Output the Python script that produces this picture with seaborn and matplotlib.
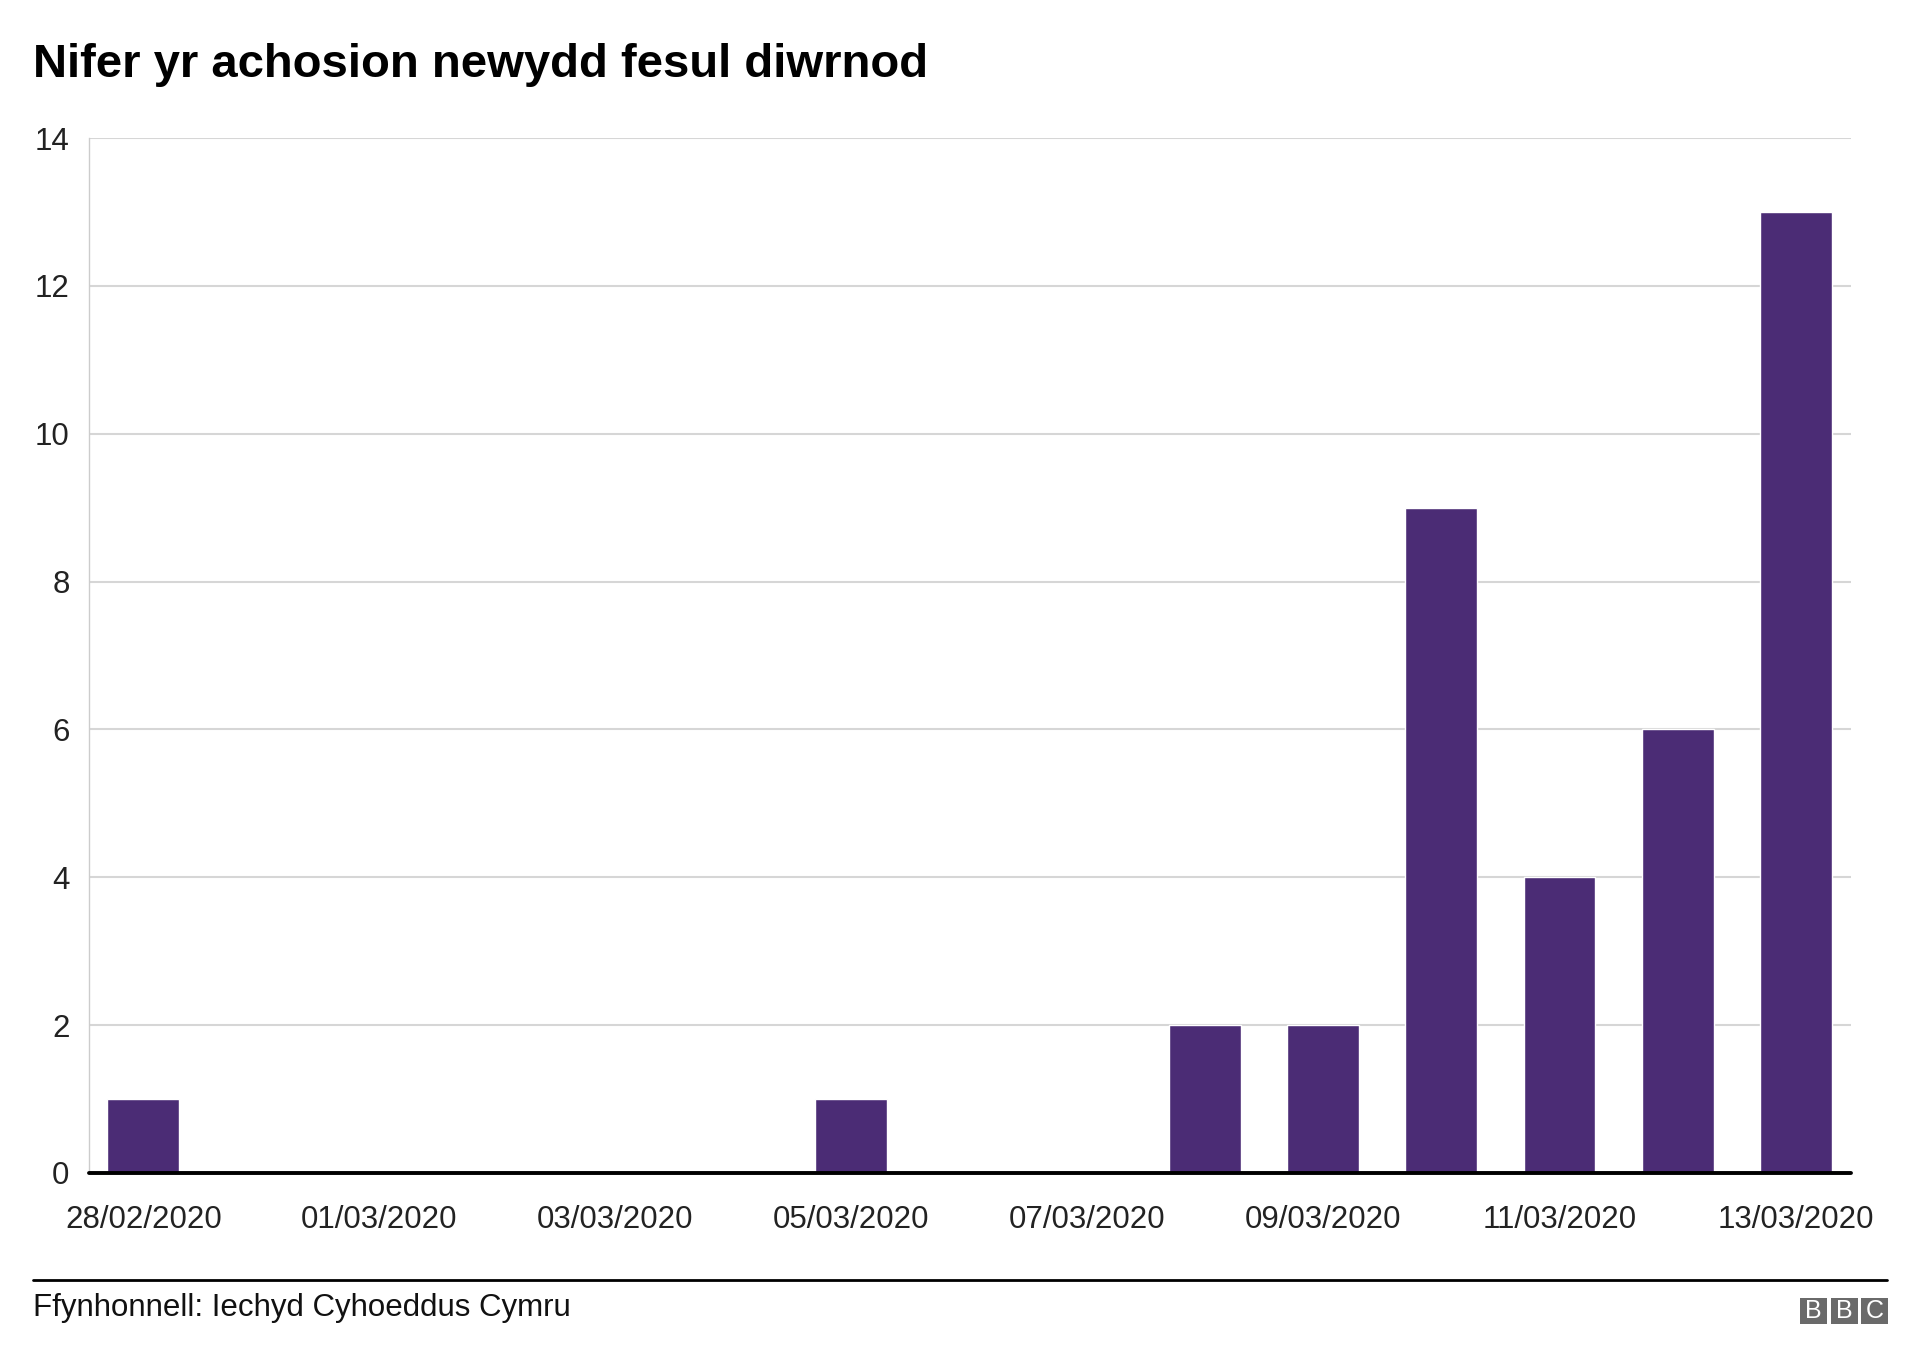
import matplotlib
matplotlib.use("Agg")
import matplotlib.pyplot as plt
from matplotlib.patches import Rectangle
from matplotlib.lines import Line2D
import seaborn as sns
import pandas as pd

dates = ["28/02/2020", "29/02/2020", "01/03/2020", "02/03/2020", "03/03/2020",
         "04/03/2020", "05/03/2020", "06/03/2020", "07/03/2020", "08/03/2020",
         "09/03/2020", "10/03/2020", "11/03/2020", "12/03/2020", "13/03/2020"]
cases = [1, 0, 0, 0, 0, 0, 1, 0, 0, 2, 2, 9, 4, 6, 13]
y_ticks = [0, 2, 4, 6, 8, 10, 12, 14]
title = "Nifer yr achosion newydd fesul diwrnod"
source = "Ffynhonnell: Iechyd Cyhoeddus Cymru"

sns.set_theme(style="white")
plt.rcParams['font.family'] = ['Liberation Sans', 'DejaVu Sans']

W, H = 1920, 1365
fig = plt.figure(figsize=(W / 100, H / 100), dpi=100)
fig.patch.set_facecolor("white")
ax = fig.add_axes([89 / W, 1 - 1173 / H, (1851 - 89) / W, (1173 - 138) / H])

df = pd.DataFrame({"date": dates, "cases": cases})
sns.barplot(data=df, x="date", y="cases", color="#4b2c75", saturation=1,
            width=0.61, ax=ax, zorder=3)

ax.set_xlim(-0.46, 14.47)
ax.set_ylim(0, 14)
ax.set_yticks(y_ticks)
ax.set_yticklabels([str(v) for v in y_ticks])
ax.set_xticks(range(0, len(dates), 2))
ax.set_xticklabels(dates[::2])
ax.set_xlabel("")
ax.set_ylabel("")

ax.grid(axis="y", color="#d6d6d6", linewidth=1.5, zorder=0)
ax.grid(axis="x", visible=False)
ax.axhline(0, color="black", linewidth=2.8, zorder=4, clip_on=False)
for s in ["top", "right", "bottom"]:
    ax.spines[s].set_visible(False)
ax.spines["left"].set_color("#cccccc")
ax.spines["left"].set_linewidth(1)

ax.tick_params(axis="both", length=0, labelsize=22.5, labelcolor="#222222")
ax.tick_params(axis="x", pad=23)
ax.tick_params(axis="y", pad=14)

fig.text(33 / W, 1 - 77 / H, title, fontsize=34, fontweight="bold",
         color="black", va="baseline", ha="left")

fig.add_artist(Line2D([33 / W, 1887 / W], [1 - 1280 / H, 1 - 1280 / H],
                      color="black", linewidth=2))
fig.text(33 / W, 1 - 1308 / H, source, fontsize=22.5, color="#111111",
         va="center", ha="left")

# BBC blocks
bw, bh, gap = 27, 26, 3.5
x0 = 1800
for i, letter in enumerate("BBC"):
    xl = x0 + i * (bw + gap)
    fig.add_artist(Rectangle((xl / W, 1 - 1324 / H), bw / W, bh / H,
                             transform=fig.transFigure, facecolor="#6a6a6a",
                             edgecolor="none"))
    fig.text((xl + bw / 2) / W, 1 - 1311 / H, letter, color="white",
             fontsize=18, ha="center", va="center")

fig.savefig("out.png", dpi=100, facecolor="white")
